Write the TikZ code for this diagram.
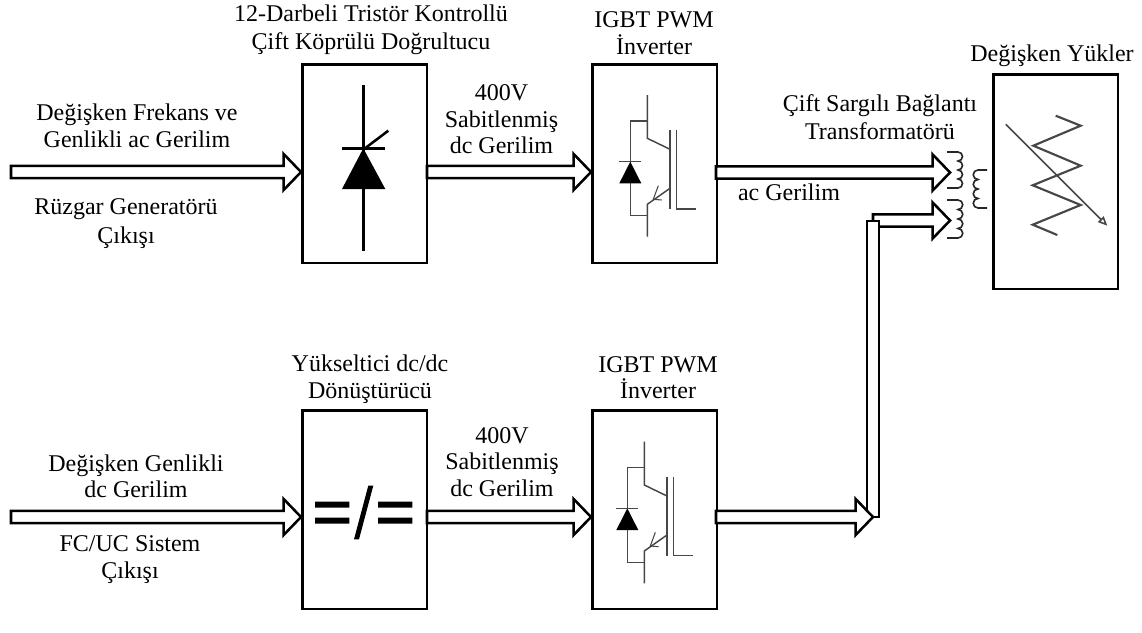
\documentclass[tikz,border=0pt]{standalone}
\usepackage{fontspec}
\setmainfont{Liberation Serif}
\usetikzlibrary{calc,arrows.meta}
\newcommand{\lblstrut}{\rule[-6pt]{0pt}{20pt}}
\tikzset{
  x=0.75pt,y=-0.75pt,
  box/.style={draw=black,line width=1.9pt,fill=white,minimum width=93.5pt,inner sep=0pt,anchor=north west},
  lbl/.style={align=center,inner sep=0pt,font=\fontsize{18}{20}\selectfont,execute at begin node=\lblstrut,execute at end node=\lblstrut},
  sym/.style={draw=black!72,line width=1.1pt,line join=miter},
  winding/.style={line width=1.2pt,draw=black!85},
  blockarrow/.style={line width=1.9pt,draw=black,fill=white,line join=miter,to path={
    let \p1=(\tikztostart),\p2=(\tikztotarget) in
    (\x1,\y1+4.6pt) -- (\x2-13pt,\y1+4.6pt) -- (\x2-13pt,\y1+13.5pt) -- (\x2,\y1) -- (\x2-13pt,\y1-13.5pt) -- (\x2-13pt,\y1-4.6pt) -- (\x1,\y1-4.6pt) -- cycle}},
  igbtsym/.pic={
    \draw[sym] (57.3,35) -- (57.3,78.3) -- (80,89.3);
    \draw[sym] (80,70) -- (80,149);
    \draw[sym] (86.7,70) -- (86.7,149) -- (106,149);
    \draw[sym] (80,128.3) -- (57.3,144.3) -- (57.3,176.7);
    \draw[sym,line width=.8pt] (68.3,125.7) -- (63.3,139.3) -- (71.7,140);
    \draw[sym] (57.3,61) -- (40.3,61) -- (40.3,155.7) -- (57.3,155.7);
    \fill[black] (40.3,101.7) -- (29.3,123.3) -- (51.3,123.3) -- cycle;
    \draw[sym] (29.3,101.7) -- (51.3,101.7);
  }
}
\begin{document}
\begin{tikzpicture}
\useasboundingbox (0,0) rectangle (1142,632);
\fill[white] (0,0) rectangle (1142,632);
% blocks
\node[box,minimum height=149pt] (rect) at (301,63) {};
\node[box,minimum height=149pt] (inv1) at (591,63) {};
\node[box,minimum height=161pt] (load) at (992,73) {};
\node[box,minimum height=149pt] (dcdc) at (301,409) {};
\node[box,minimum height=149pt] (inv2) at (591,409) {};
% free ends
\coordinate (in1) at (11,172);
\coordinate (in2) at (11,517);
\coordinate (o1) at (427,172);
\coordinate (o2) at (427,517);
\coordinate (o3) at (716,172.5);
\coordinate (o4) at (716,517);
\coordinate (p1) at (950,172.5);
\coordinate (p2) at (950,220.5);
\coordinate (bus) at (873,517);
\coordinate (busb) at (873,220.5);
% block arrows
\draw[blockarrow] (in1) to (rect.west |- in1);
\draw[blockarrow] (o1) to (inv1.west |- o1);
\draw[blockarrow] (o3) to (p1);
\draw[blockarrow] (in2) to (dcdc.west |- in2);
\draw[blockarrow] (o2) to (inv2.west |- o2);
\draw[blockarrow] (o4) to (bus);
\draw[blockarrow] (busb) to (p2);
% vertical bus
\fill[white] (867,221) rectangle (879,510);
\draw[line width=1.9pt,line join=miter] (867,511) -- (867,221) -- (879,221) -- (879,517) -- (bus);
\draw[line width=1.9pt] (873,221) -- (873,214);
% thyristor
\draw[line width=1.9pt] (363.3,85) -- (363.3,250.7);
\fill (363.3,148.3) -- (342,189) -- (385.3,189) -- cycle;
\draw[line width=2.6pt] (342,148.3) -- (385.3,148.3);
\draw[line width=1.9pt] (365,148.3) -- (388.3,130.7);
% dc/dc symbol
\fill (315,501.7) rectangle (349.3,507.7) (315,517.7) rectangle (349.3,523.7);
\fill (378,501.7) rectangle (412.3,507.7) (378,517.7) rectangle (412.3,523.7);
\fill (368.3,485.7) -- (373.3,485.7) -- (359,539.3) -- (354,539.3) -- cycle;
% IGBTs
\pic at (590,60) {igbtsym};
\pic at (587,406.7) {igbtsym};
% transformer windings
\draw[winding] (947,152) -- (958,152)
  arc[start angle=-90,end angle=90,radius=4.5] arc[start angle=-90,end angle=90,radius=4.5]
  arc[start angle=-90,end angle=90,radius=4.5] arc[start angle=-90,end angle=90,radius=4.5]
  -- (947,188);
\draw[winding] (947,200) -- (958,200)
  arc[start angle=-90,end angle=90,radius=4.75] arc[start angle=-90,end angle=90,radius=4.75]
  arc[start angle=-90,end angle=90,radius=4.75] arc[start angle=-90,end angle=90,radius=4.75]
  -- (947,238);
\draw[winding] (987,170) -- (978,170)
  arc[start angle=-90,end angle=-270,radius=4.75] arc[start angle=-90,end angle=-270,radius=4.75]
  arc[start angle=-90,end angle=-270,radius=4.75] arc[start angle=-90,end angle=-270,radius=4.75]
  -- (987,208);
% variable load
\draw[line width=1.6pt,black!72,line join=miter] (1055.7,115.7) -- (1080.7,125.7) -- (1033.3,145.7) -- (1080.7,165.7) -- (1032.7,185.3) -- (1080.7,205) -- (1032.7,224.7) -- (1057.3,235);
\draw[line width=1.2pt,black!72,-{Triangle[open,length=7pt,width=6pt]}] (1005.7,124.3) -- (1107.3,225.7);
% labels
\node[lbl] (t1) at (137,129.7) {Değişken Frekans ve\\Genlikli ac Gerilim};
\node[lbl] (t2) at (126,225.2) {Rüzgar Generatörü\\[1.5pt]Çıkışı};
\node[lbl] (t3) at (371,30.7) {12-Darbeli Tristör Kontrollü\\[1pt]Çift Köprülü Doğrultucu};
\node[lbl] (t4) at (501.5,123.2) {400V\\Sabitlenmiş\\dc Gerilim};
\node[lbl] (t5) at (654,37.2) {IGBT PWM\\İnverter};
\node[lbl] (t6) at (880,121.5) {Çift Sargılı Bağlantı\\[1pt]Transformatörü};
\node[lbl] (t7) at (789,194.7) {ac Gerilim};
\node[lbl] (t8) at (1052,55.7) {Değişken Yükler};
\node[lbl] (t9) at (136,480) {Değişken Genlikli\\dc Gerilim};
\node[lbl] (t10) at (130,561) {FC/UC Sistem\\Çıkışı};
\node[lbl] (t11) at (370,381) {Yükseltici dc/dc\\Dönüştürücü};
\node[lbl] (t12) at (502,465.7) {400V\\Sabitlenmiş\\dc Gerilim};
\node[lbl] (t13) at (658,381.5) {IGBT PWM\\İnverter};
\end{tikzpicture}
\end{document}
